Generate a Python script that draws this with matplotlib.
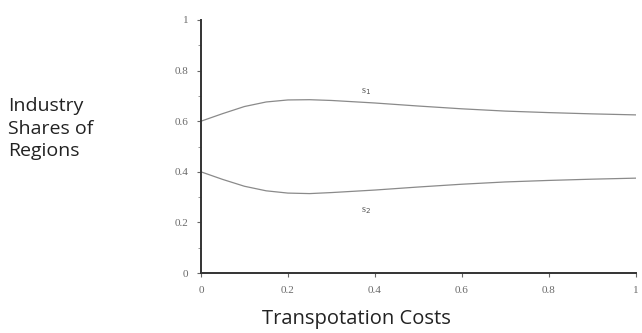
import matplotlib

matplotlib.use("Agg", force=True)
import matplotlib.pyplot as plt
from matplotlib.ticker import MultipleLocator

# transport cost values and the two regional industry shares
cost = [0.0, 0.05, 0.1, 0.15, 0.2, 0.25, 0.3, 0.4, 0.5, 0.6, 0.7, 0.8, 0.9, 1.0]
s1 = [0.600, 0.630, 0.658, 0.676, 0.684, 0.685, 0.682, 0.672, 0.660, 0.649, 0.640, 0.634, 0.629, 0.625]
s2 = [0.400, 0.370, 0.343, 0.325, 0.316, 0.314, 0.318, 0.328, 0.340, 0.351, 0.360, 0.366, 0.371, 0.375]

x_ticks = [0, 0.2, 0.4, 0.6, 0.8, 1]
x_tick_labels = ["0", "0.2", "0.4", "0.6", "0.8", "1"]
y_ticks = [0, 0.2, 0.4, 0.6, 0.8, 1]
y_tick_labels = ["0", "0.2", "0.4", "0.6", "0.8", "1"]

fig = plt.figure(figsize=(6.42, 3.33), dpi=100)
ax = fig.add_axes([0.313, 0.18, 0.677, 0.76])

curve_color = "#8a8a8a"
ax.plot(cost, s1, color=curve_color, linewidth=0.9)
ax.plot(cost, s2, color=curve_color, linewidth=0.9)

serif = ["Liberation Serif", "DejaVu Serif"]
ax.text(0.38, 0.71, "s$_1$", fontsize=7.5, color="#555555", family=serif, ha="center")
ax.text(0.38, 0.24, "s$_2$", fontsize=7.5, color="#555555", family=serif, ha="center")

ax.set_xlim(0, 1)
ax.set_ylim(0, 1)
ax.set_xticks(x_ticks)
ax.set_xticklabels(x_tick_labels)
ax.set_yticks(y_ticks)
ax.set_yticklabels(y_tick_labels)
ax.yaxis.set_minor_locator(MultipleLocator(0.1))

for side in ("top", "right"):
    ax.spines[side].set_visible(False)
for side in ("left", "bottom"):
    ax.spines[side].set_linewidth(1.4)
    ax.spines[side].set_color("#333333")

ax.tick_params(axis="both", which="major", length=3, width=0.8, color="#666666",
               labelsize=8, labelcolor="#6a6a6a", pad=6)
ax.tick_params(axis="y", which="minor", length=2, width=0.6, color="#888888")
for lab in ax.get_xticklabels() + ax.get_yticklabels():
    lab.set_family(serif)

fig.text(0.013, 0.708, "Industry\nShares of\nRegions", fontsize=14, color="#222222",
         family=["Open Sans", "DejaVu Sans"], ha="left", va="top", linespacing=1.32)
fig.text(0.555, 0.012, "Transpotation Costs", fontsize=14.5, color="#222222",
         family=["Open Sans", "DejaVu Sans"], ha="center", va="bottom")

fig.savefig("out.png", dpi=100)
